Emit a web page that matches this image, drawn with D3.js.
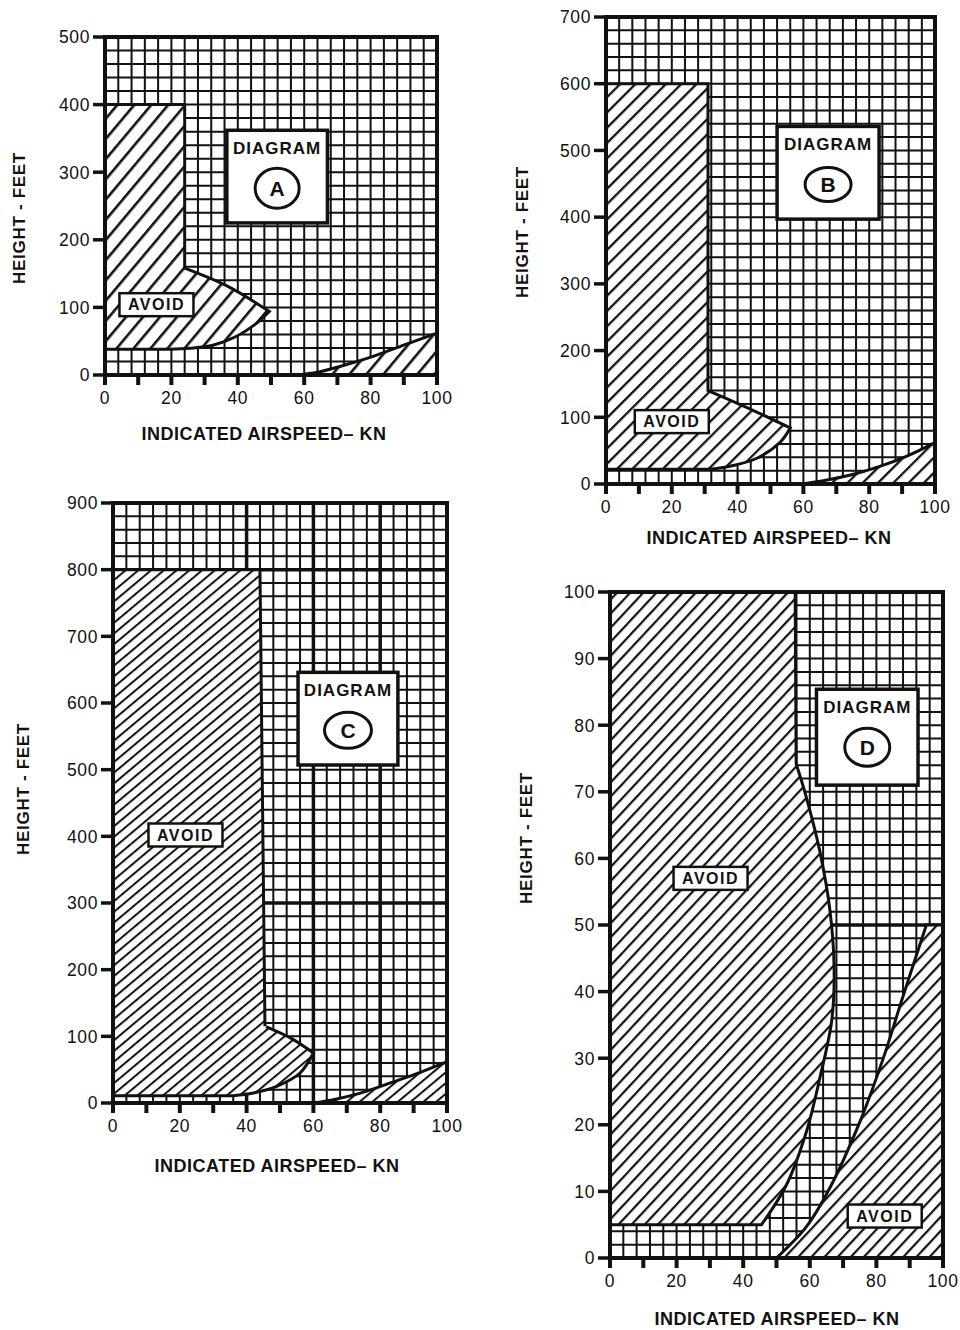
<!DOCTYPE html>
<html>
<head>
<meta charset="utf-8">
<script src="https://cdn.jsdelivr.net/npm/d3@7"></script>
<style>
  body { margin: 0; background: #fff; }
  text { font-family: "Liberation Sans", Arial, Helvetica, sans-serif; fill: #111; }
</style>
</head>
<body>
<div id="chart"></div>
<script>
// axis values
const xTickLabels = [0, 20, 40, 60, 80, 100];
const xTickMarks = [0, 10, 20, 30, 40, 50, 60, 70, 80, 90, 100];
const yTicksA = [0, 100, 200, 300, 400, 500];
const yTicksB = [0, 100, 200, 300, 400, 500, 600, 700];
const yTicksC = [0, 100, 200, 300, 400, 500, 600, 700, 800, 900];
const yTicksD = [0, 10, 20, 30, 40, 50, 60, 70, 80, 90, 100];

// avoid regions [knots, feet, smooth?]
const avoidA1 = [[0, 400], [24, 400], [24, 158], [37, 131, 1], [49.5, 94], [45.5, 76, 1], [39.5, 57, 1], [32.5, 44, 1], [25.5, 39.5, 1], [19.5, 38], [0, 38]];
const avoidA2 = [[58, 0], [64, 4, 1], [71, 13, 1], [81, 28, 1], [91, 46, 1], [100, 62], [100, 0]];
const avoidB1 = [[0, 600], [31, 600], [31, 140], [44, 112, 1], [56, 84], [53, 63, 1], [46, 39, 1], [39, 28, 1], [33, 23, 1], [29, 22], [0, 22]];
const avoidB2 = [[59, 0], [66, 5, 1], [74, 13, 1], [83, 26, 1], [92, 43, 1], [100, 62], [100, 0]];
const avoidC1 = [[0, 800], [44, 800], [45.5, 115], [53, 98, 1], [60, 75], [56, 45, 1], [49, 25, 1], [42, 15, 1], [36, 11], [0, 11]];
const avoidC2 = [[60, 0], [66, 5, 1], [73.5, 14, 1], [83.5, 31, 1], [92, 46, 1], [100, 62], [100, 0]];
const avoidD1 = [[0, 100], [55.6, 100], [55.9, 74.2], [59, 69.1, 1], [63, 61.1, 1], [66, 52.4, 1], [67.3, 43.7, 1], [66.6, 35.7, 1], [63, 27, 1], [59, 19, 1], [53, 11, 1], [45.5, 5], [0, 5]];
const avoidD2 = [[50, 0], [59, 4.7, 1], [66, 10.5, 1], [75, 20.4, 1], [82, 29.9, 1], [88, 39.3, 1], [95, 50], [100, 50], [100, 0]];

// annotation boxes [x0, x1, y0, y1] in knots / feet
const boxA = [36.7, 67, 225, 362];
const boxB = [52, 83, 397, 536];
const boxC = [55.4, 85.3, 507, 646];
const boxD = [62, 92.5, 71, 85.4];

// "AVOID" label centres [knots, feet]
const labelsA = [[15.5, 104]];
const labelsB = [[20, 93.5]];
const labelsC = [[21.7, 402]];
const labelsD = [[30.2, 57], [82.5, 6.3]];

const panels = [
    { id: "A", left: 105, right: 437, top: 37, bottom: 375, yMax: 500, yStep: 20, yTicks: yTicksA,
      regions: [avoidA1, avoidA2], box: boxA, labels: labelsA, heavyX: [], heavyY: [],
      yTitle: [19, 218], xTitle: [264, 440], hatch: [13, 40, 2.6], ell: [22, 20] },
    { id: "B", left: 606, right: 935, top: 17, bottom: 484, yMax: 700, yStep: 20, yTicks: yTicksB,
      regions: [avoidB1, avoidB2], box: boxB, labels: labelsB, heavyX: [], heavyY: [],
      yTitle: [522, 232], xTitle: [769, 544], hatch: [10.8, 45, 2.3], ell: [23, 17] },
    { id: "C", left: 113, right: 447, top: 503, bottom: 1103, yMax: 900, yStep: 20, yTicks: yTicksC,
      regions: [avoidC1, avoidC2], box: boxC, labels: labelsC, heavyX: [40, 60, 80], heavyY: [300, 800],
      yTitle: [23, 789], xTitle: [277, 1172], hatch: [8.2, 50, 2], ell: [23.5, 18] },
    { id: "D", left: 610, right: 943, top: 592, bottom: 1258, yMax: 100, yStep: 2, yTicks: yTicksD,
      regions: [avoidD1, avoidD2], box: boxD, labels: labelsD, heavyX: [], heavyY: [50],
      yTitle: [526, 838], xTitle: [777, 1325], hatch: [9.6, 43, 2.2], ell: [22.5, 19] }
];

const svg = d3.select("#chart")
    .append("svg")
    .attr("width", 960)
    .attr("height", 1330);

const defs = svg.append("defs");

// hatch: [spacing, rotation, line width]
panels.forEach(p => {
    const [gap, rot, lw] = p.hatch;
    const pat = defs.append("pattern")
        .attr("id", "hatch" + p.id)
        .attr("patternUnits", "userSpaceOnUse")
        .attr("width", gap)
        .attr("height", gap)
        .attr("patternTransform", "rotate(" + rot + ")");
    pat.append("rect")
        .attr("width", gap)
        .attr("height", gap)
        .attr("fill", "#fff");
    pat.append("line")
        .attr("x1", lw / 2).attr("y1", 0)
        .attr("x2", lw / 2).attr("y2", gap)
        .attr("stroke", "#111")
        .attr("stroke-width", lw);
});

function regionPath(pts, x, y) {
    const curve = d3.line()
        .x(d => x(d[0]))
        .y(d => y(d[1]))
        .curve(d3.curveCatmullRom.alpha(0.5));
    let s = "M" + x(pts[0][0]) + "," + y(pts[0][1]);
    let i = 1;
    while (i < pts.length) {
        if (pts[i][2]) {
            const run = [pts[i - 1]];
            while (i < pts.length && pts[i][2]) run.push(pts[i++]);
            if (i < pts.length) run.push(pts[i++]);
            s += curve(run).replace(/^M[^A-Za-z]*/, "");
        } else {
            s += "L" + x(pts[i][0]) + "," + y(pts[i][1]);
            i++;
        }
    }
    return s + "Z";
}

function drawPanel(p) {
    const x = d3.scaleLinear([0, 100], [p.left, p.right]);
    const y = d3.scaleLinear([0, p.yMax], [p.bottom, p.top]);
    const g = svg.append("g").attr("class", "panel panel-" + p.id);

    g.append("rect")
        .attr("x", p.left).attr("y", p.top)
        .attr("width", p.right - p.left).attr("height", p.bottom - p.top)
        .attr("fill", "#fff");

    // grid
    const grid = g.append("g").attr("stroke", "#111");
    grid.selectAll(".gx")
        .data(d3.range(0, 100.1, 4))
        .join("line")
        .attr("x1", d => x(d)).attr("x2", d => x(d))
        .attr("y1", p.top).attr("y2", p.bottom)
        .attr("stroke-width", d => p.heavyX.includes(d) ? 3.5 : 2);
    grid.selectAll(".gy")
        .data(d3.range(0, p.yMax + 0.1, p.yStep))
        .join("line")
        .attr("y1", d => y(d)).attr("y2", d => y(d))
        .attr("x1", p.left).attr("x2", p.right)
        .attr("stroke-width", d => p.heavyY.includes(d) ? 3.5 : 2);

    // avoid regions
    g.selectAll(".avoid")
        .data(p.regions)
        .join("path")
        .attr("class", "avoid")
        .attr("d", d => regionPath(d, x, y))
        .attr("fill", "url(#hatch" + p.id + ")")
        .attr("stroke", "#111")
        .attr("stroke-width", 3)
        .attr("stroke-linejoin", "miter");

    // diagram box
    const b = p.box;
    const bx0 = x(b[0]), bx1 = x(b[1]), by0 = y(b[3]), by1 = y(b[2]);
    g.append("rect")
        .attr("x", bx0).attr("y", by0)
        .attr("width", bx1 - bx0).attr("height", by1 - by0)
        .attr("fill", "#fff")
        .attr("stroke", "#111")
        .attr("stroke-width", 3.5);
    g.append("text")
        .attr("x", (bx0 + bx1) / 2)
        .attr("y", by0 + 24)
        .attr("text-anchor", "middle")
        .attr("font-size", 17)
        .attr("font-weight", "bold")
        .attr("letter-spacing", 1)
        .text("DIAGRAM");
    g.append("ellipse")
        .attr("cx", (bx0 + bx1) / 2)
        .attr("cy", by0 + 58)
        .attr("rx", p.ell[0]).attr("ry", p.ell[1])
        .attr("fill", "#fff")
        .attr("stroke", "#111")
        .attr("stroke-width", 3);
    g.append("text")
        .attr("x", (bx0 + bx1) / 2)
        .attr("y", by0 + 58)
        .attr("dy", "0.36em")
        .attr("text-anchor", "middle")
        .attr("font-size", 21)
        .attr("font-weight", "bold")
        .text(p.id);

    // avoid labels
    const lab = g.selectAll(".lab")
        .data(p.labels)
        .join("g")
        .attr("class", "lab")
        .attr("transform", d => "translate(" + x(d[0]) + "," + y(d[1]) + ")");
    lab.append("rect")
        .attr("x", -37).attr("y", -11.5)
        .attr("width", 74).attr("height", 23)
        .attr("fill", "#fff")
        .attr("stroke", "#111")
        .attr("stroke-width", 2.5);
    lab.append("text")
        .attr("text-anchor", "middle")
        .attr("dy", "0.36em")
        .attr("font-size", 16)
        .attr("font-weight", "bold")
        .attr("letter-spacing", 1.5)
        .text("AVOID");

    // frame
    g.append("rect")
        .attr("x", p.left).attr("y", p.top)
        .attr("width", p.right - p.left).attr("height", p.bottom - p.top)
        .attr("fill", "none")
        .attr("stroke", "#111")
        .attr("stroke-width", 4);

    // y ticks
    g.selectAll(".yt")
        .data(p.yTicks)
        .join("line")
        .attr("x1", p.left - 12).attr("x2", p.left)
        .attr("y1", d => y(d)).attr("y2", d => y(d))
        .attr("stroke", "#111")
        .attr("stroke-width", 3.5);
    g.selectAll(".yl")
        .data(p.yTicks)
        .join("text")
        .attr("x", p.left - 15)
        .attr("y", d => y(d))
        .attr("dy", "0.36em")
        .attr("text-anchor", "end")
        .attr("font-size", 17.5)
        .attr("letter-spacing", 0.6)
        .text(d => d);

    // x ticks
    g.selectAll(".xt")
        .data(xTickMarks)
        .join("line")
        .attr("x1", d => x(d)).attr("x2", d => x(d))
        .attr("y1", p.bottom).attr("y2", p.bottom + 10)
        .attr("stroke", "#111")
        .attr("stroke-width", 4);
    g.selectAll(".xl")
        .data(xTickLabels)
        .join("text")
        .attr("x", d => x(d))
        .attr("y", p.bottom + 29)
        .attr("text-anchor", "middle")
        .attr("font-size", 17.5)
        .attr("letter-spacing", 0.6)
        .text(d => d);

    // titles
    g.append("text")
        .attr("transform", "translate(" + p.yTitle[0] + "," + p.yTitle[1] + ") rotate(-90)")
        .attr("dy", "0.36em")
        .attr("text-anchor", "middle")
        .attr("font-size", 17)
        .attr("font-weight", "bold")
        .attr("letter-spacing", 0.7)
        .text("HEIGHT - FEET");
    g.append("text")
        .attr("x", p.xTitle[0])
        .attr("y", p.xTitle[1])
        .attr("text-anchor", "middle")
        .attr("font-size", 18)
        .attr("font-weight", "bold")
        .attr("letter-spacing", 0.5)
        .text("INDICATED AIRSPEED\u2013 KN");
}

panels.forEach(drawPanel);
</script>
</body>
</html>
